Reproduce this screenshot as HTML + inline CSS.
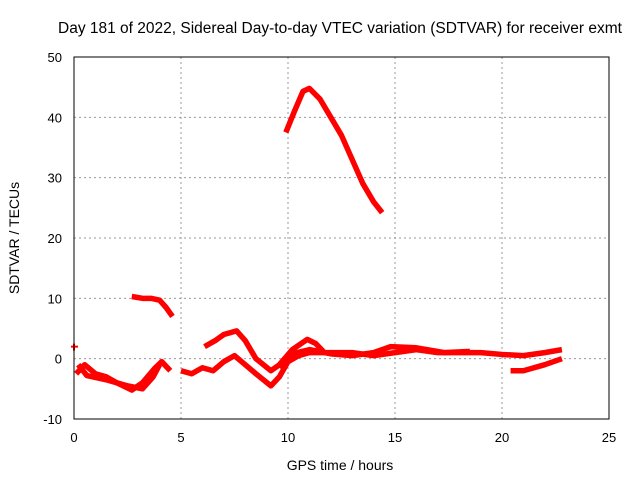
<!DOCTYPE html>
<html><head><meta charset="utf-8"><style>
body{margin:0;background:#fff;}
svg text{font-family:"Liberation Sans",sans-serif;font-size:13px;fill:#000;}
</style></head><body>
<svg id="chart" width="640" height="480" xmlns="http://www.w3.org/2000/svg">
<text x="340" y="33" text-anchor="middle" style="font-size:15.5px">Day 181 of 2022, Sidereal Day-to-day VTEC variation (SDTVAR) for receiver exmt</text>
<text x="340" y="470" text-anchor="middle" style="font-size:14px">GPS time / hours</text>
<text transform="translate(19,238) rotate(-90)" text-anchor="middle" style="font-size:14px">SDTVAR / TECUs</text>
<g id="grid"></g><g id="ticks"></g><g id="marks"></g>
<rect x="74" y="57" width="535" height="362" fill="none" stroke="#000" stroke-width="1"/>
</svg>
<script>
const xTicks=[0,5,10,15,20,25];
const yTicks=[-10,0,10,20,30,40,50];
const seriesArc=[[9.9,37.5],[10.3,41],[10.7,44.3],[11,44.8],[11.5,43],[12,40],[12.5,37],[13,33],[13.5,29],[14,26],[14.4,24.2]];
const seriesEarly=[[2.7,10.3],[3.2,10],[3.6,10],[4,9.7],[4.3,8.5],[4.6,7]];
const seriesMid=[[6.1,2],[6.6,3],[7,4],[7.6,4.6],[8,3],[8.5,0],[9.2,-2],[9.6,-1],[10.2,1.5],[10.9,3.2],[11.3,2.5],[11.7,1]];
const seriesLowA=[[0.1,-2.5],[0.5,-1],[1,-2.5],[1.5,-3],[2,-4],[2.7,-5.2],[3.2,-4],[3.8,-1.5],[4.1,-0.5],[4.5,-2]];
const seriesLowB=[[0.2,-1],[0.6,-2.8],[1.5,-3.5],[2.5,-4.5],[3.2,-5],[3.7,-3],[4.0,-1]];
const seriesMain=[[5,-2],[5.5,-2.5],[6,-1.5],[6.5,-2],[7,-0.5],[7.5,0.5],[8,-1],[8.5,-2.5],[9.2,-4.5],[9.6,-3],[10,-0.5],[10.5,0.5],[11,1],[12,1],[13,1],[14,0.5],[15,1],[16,1.5],[17,1],[18,1],[19,1],[20,0.7],[21,0.5],[22,1],[22.8,1.5]];
const seriesMainB=[[9.6,-1.5],[10.2,0.8],[11,1.5],[12,0.8],[13,0.5],[14,1],[14.8,2],[16,1.8],[17.3,1],[18.5,1.2]];
const seriesLate=[[20.4,-2],[21,-2],[22,-1],[22.8,0]];
const seriesPoint=[[0,2]];
const X=v=>74+v/25*535, Y=v=>419-(v+10)/60*362;
const NS="http://www.w3.org/2000/svg";
const g=document.getElementById('grid'),t=document.getElementById('ticks'),m=document.getElementById('marks');
function mk(tag,a,p){const e=document.createElementNS(NS,tag);for(const k in a)e.setAttribute(k,a[k]);p.appendChild(e);return e;}
xTicks.forEach(v=>{
 if(v>0&&v<25){const l=mk('line',{x1:X(v),x2:X(v),y1:57,y2:419,stroke:'#999','stroke-dasharray':'2,3'},g);
 
 }
 const tx=mk('text',{x:X(v),y:442,'text-anchor':'middle'},t);tx.textContent=v;
 
 
});
yTicks.forEach(v=>{
 if(v>-10&&v<50){const l=mk('line',{x1:74,x2:609,y1:Y(v),y2:Y(v),stroke:'#999','stroke-dasharray':'2,3'},g);
 
 }
 const tx=mk('text',{x:62,y:Y(v)+5,'text-anchor':'end'},t);tx.textContent=v;
 
 
});
[seriesArc,seriesEarly,seriesMid,seriesLowA,seriesLowB,seriesMain,seriesMainB,seriesLate].forEach(s=>{
 const p=mk('polyline',{points:s.map(d=>X(d[0])+','+Y(d[1])).join(' '),fill:'none',stroke:'#f00','stroke-width':5.5,'stroke-linejoin':'round'},m);
 
 
});
seriesPoint.forEach(d=>{
 const p=mk('path',{d:`M${X(d[0])-3},${Y(d[1])}h7M${X(d[0])},${Y(d[1])-3}v7`,stroke:'#f00','stroke-width':2},m);
 
 
});
</script>
</body></html>
